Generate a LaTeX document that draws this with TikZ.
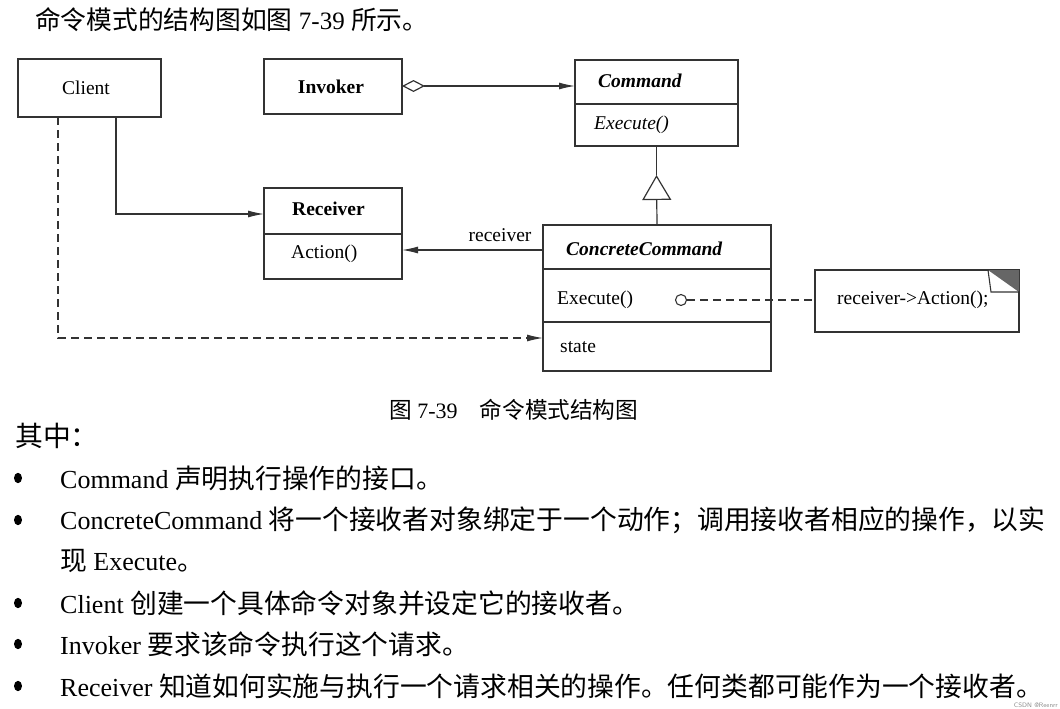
\documentclass[tikz,border=0pt]{standalone}
\usepackage{fontspec}
\setmainfont{Liberation Serif}
\newfontfamily\cjk[Scale=1.03]{Noto Sans CJK SC}
\usetikzlibrary{arrows.meta,calc}
\definecolor{linec}{gray}{0.2}
\newcommand\myzh[1]{{\cjk #1}}
\begin{document}
\begin{tikzpicture}[x=1pt,y=-1pt,
  box/.style={draw=linec, line width=1.3pt, inner sep=0pt, outer sep=0pt, anchor=center},
  lbl/.style={inner sep=0pt, anchor=west, font=\fontsize{19.5}{22}\selectfont},
  clbl/.style={inner sep=0pt, anchor=center, font=\fontsize{19.5}{22}\selectfont},
  conn/.style={draw=linec, line width=1.2pt},
  tip/.style={-{Latex[length=16pt,width=7pt]}},
  arr/.style={conn, tip},
  dsh/.style={conn, dash pattern=on 8pt off 5pt},
  body/.style={inner sep=0pt, anchor=west, font=\fontsize{26}{30}\selectfont},
  bul/.style={fill=black, circle, inner sep=0pt, minimum size=8pt, yscale=1.3}
]
\useasboundingbox (0,0) rectangle (1060,709);

% title
\node[body, font=\fontsize{25}{30}\selectfont] (title) at (35,20) {\myzh{命令模式的结构图如图} 7-39 \myzh{所示。}};

% Client
\node[box, minimum width=143pt, minimum height=58pt] (client) at (89.5,88) {};
\node[clbl] (clientT) at (86,88) {Client};

% Invoker
\node[box, minimum width=138pt, minimum height=55pt] (invoker) at (333,86.5) {};
\node[clbl, font=\fontsize{19.5}{22}\selectfont\bfseries] (invokerT) at (331,87) {Invoker};

% Command
\node[box, minimum width=163pt, minimum height=44pt] (cmdname) at (656.5,82) {};
\node[box, minimum width=163pt, minimum height=42pt] (cmdops) at (656.5,125) {};
\node[lbl, font=\fontsize{19.5}{22}\selectfont\bfseries\itshape] (cmdT) at (598,81) {Command};
\node[lbl, font=\fontsize{19.5}{22}\selectfont\itshape] (cmdopT) at (594,125) {Execute()};

% Receiver
\node[box, minimum width=138pt, minimum height=46pt] (rname) at (333,211) {};
\node[box, minimum width=138pt, minimum height=45pt] (rops) at (333,256.5) {};
\node[lbl, font=\fontsize{19.5}{22}\selectfont\bfseries] (rT) at (292,209) {Receiver};
\node[lbl] (ropT) at (291,254) {Action()};

% ConcreteCommand
\node[box, minimum width=228pt, minimum height=44pt] (ccname) at (657,247) {};
\node[box, minimum width=228pt, minimum height=53pt] (ccops) at (657,295.5) {};
\node[box, minimum width=228pt, minimum height=49pt] (ccstate) at (657,346.5) {};
\node[lbl, font=\fontsize{19.5}{22}\selectfont\bfseries\itshape] (ccT) at (566,249) {ConcreteCommand};
\node[lbl] (ccopT) at (557,300) {Execute()};
\node[lbl] (ccstT) at (560,347) {state};

% note
\node[box, minimum width=204pt, minimum height=62pt] (note) at (917,301) {};
\node[lbl] (noteT) at (837,300) {receiver->Action();};
\fill[black!60] ($(note.north east)+(-31,0)$) -- (note.north east) -- ($(note.north east)+(0,22)$) -- cycle;
\draw[linec, line width=1.1pt] ($(note.north east)+(-31,0)$) -- ($(note.north east)+(-28,22)$) -- ($(note.north east)+(0,22)$);

% circle on Execute
\node[circle, draw=linec, line width=1.1pt, minimum size=11pt, inner sep=0pt] (dot) at (681,300) {};
\draw[dsh] (dot.east) -- (note.west |- dot.east);

% aggregation Invoker -> Command
\draw[conn, {Diamond[open,length=23pt,width=12pt]}-{Latex[length=16pt,width=7pt]}]
  ($(invoker.east)+(0,-0.5)$) -- ($(cmdname.west)+(0,4)$);

% inheritance
\coordinate (tri) at ($(cmdops.south)+(0,29)$);
\draw[conn, -{Triangle[open,length=25pt,width=29pt]}] (ccname.north) -- (tri);
\draw[conn] (tri) -- (cmdops.south);

% Client -> Receiver
\draw[arr] ($(client.south west)!0.685!(client.south east)$) |- ($(rname.west)+(0,3)$);

% ConcreteCommand -> Receiver
\draw[arr] ($(ccname.west)+(0,3)$) -- ($(rops.east)+(0,-6.5)$);
\node[clbl] (recvT) at (500,235) {receiver};

% Client -> ConcreteCommand (dashed)
\draw[dsh, tip] ($(client.south west)!0.28!(client.south east)$) |- ($(ccstate.west)+(0,-8.5)$);

% caption
\node[inner sep=0pt, anchor=west, font=\fontsize{22}{26}\selectfont] (cap) at (389,410) {\myzh{图} 7-39\quad\myzh{命令模式结构图}};

% body
\node[body, font=\fontsize{27}{30}\selectfont] (qz) at (15,436) {\myzh{其中：}};
\node[bul] (b1) at (18,478) {};
\node[body] (t1) at (60,478) {Command \myzh{声明执行操作的接口。}};
\node[bul] (b2) at (18,520) {};
\node[body] (t2) at (60,520) {ConcreteCommand \myzh{将一个接收者对象绑定于一个动作；调用接收者相应的操作，以实}};
\node[body] (t2b) at (60,561) {\myzh{现} Execute\myzh{。}};
\node[bul] (b3) at (18,603) {};
\node[body] (t3) at (60,603) {Client \myzh{创建一个具体命令对象并设定它的接收者。}};
\node[bul] (b4) at (18,644) {};
\node[body] (t4) at (60,644) {Invoker \myzh{要求该命令执行这个请求。}};
\node[bul] (b5) at (18,686) {};
\node[body] (t5) at (60,686) {Receiver \myzh{知道如何实施与执行一个请求相关的操作。任何类都可能作为一个接收者。}};

% watermark
\node[inner sep=0pt, anchor=east, text=black!45, font=\sffamily\fontsize{6.5}{7}\selectfont] (wm) at (1058,705) {CSDN @Reenrr};
\end{tikzpicture}
\end{document}
